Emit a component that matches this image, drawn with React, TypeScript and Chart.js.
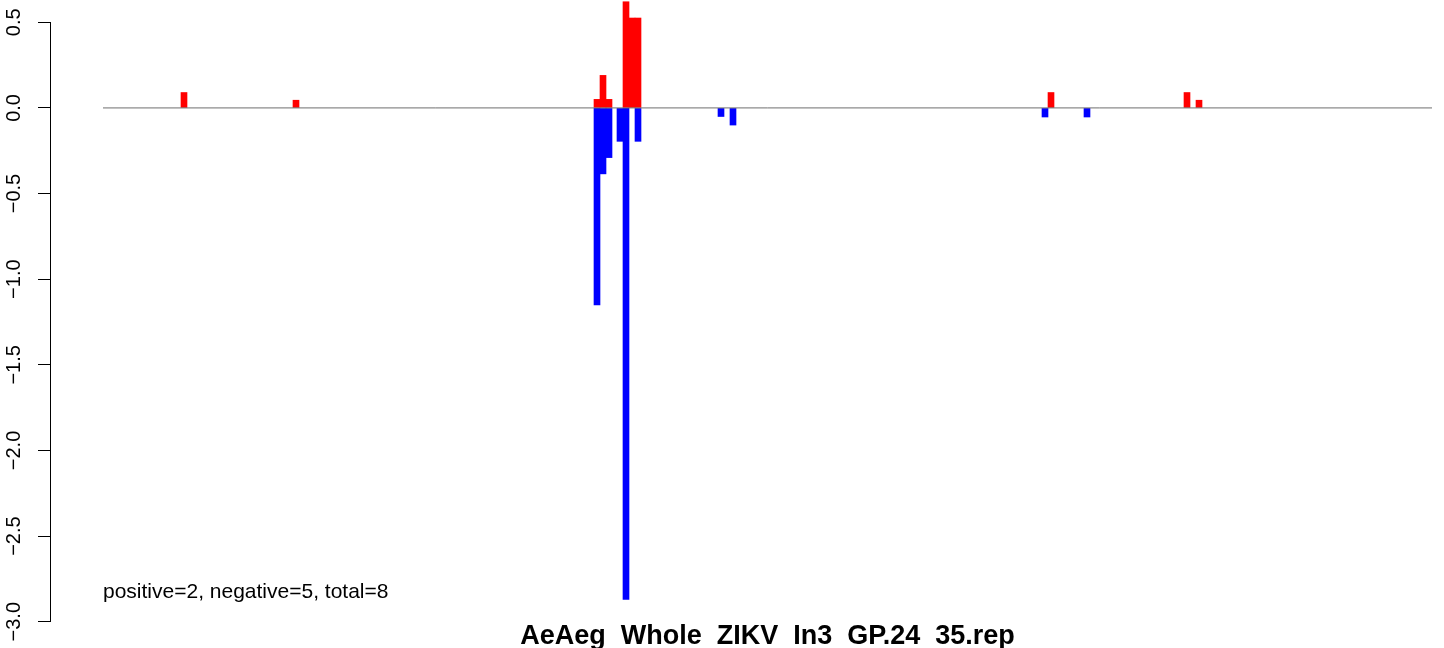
import React, { useEffect, useRef } from "react";
import { Chart, registerables } from "chart.js";

Chart.register(...registerables);

// ---- data ----
const POS_POSITIONS = [81, 193, 494, 500, 506, 523, 529, 535, 948, 1084, 1096];
const POS_VALUES = [0.09, 0.045, 0.05, 0.19, 0.05, 0.62, 0.525, 0.525, 0.09, 0.09, 0.045];
const NEG_POSITIONS = [494, 500, 506, 517, 523, 535, 618, 630, 942, 984];
const NEG_VALUES = [-1.15, -0.385, -0.29, -0.195, -2.87, -0.195, -0.05, -0.1, -0.053, -0.053];
const SEQ_RANGE = [0, 1329];
const X_LIMITS = [-53, 1341];
const Y_TICKS = [-3.0, -2.5, -2.0, -1.5, -1.0, -0.5, 0.0, 0.5];
const TITLE = "AeAeg  Whole  ZIKV  In3  GP.24  35.rep";
const ANNOTATION = "positive=2, negative=5, total=8";

const FONT = '"Liberation Sans", Arial, Helvetica, sans-serif';

export default function App() {
  const ref = useRef<HTMLCanvasElement | null>(null);

  useEffect(() => {
    if (!ref.current) return;
    const textPlugin = {
      id: "rtext",
      afterDraw(chart: any) {
        const ctx = chart.ctx;
        const xs = chart.scales.x;
        ctx.save();
        ctx.fillStyle = "#000";
        ctx.textBaseline = "alphabetic";
        ctx.font = `21px ${FONT}`;
        ctx.textAlign = "left";
        ctx.fillText(ANNOTATION, xs.getPixelForValue(SEQ_RANGE[0]), 598);
        ctx.font = `bold 27px ${FONT}`;
        ctx.textAlign = "center";
        ctx.fillText(TITLE, xs.getPixelForValue((SEQ_RANGE[0] + SEQ_RANGE[1]) / 2), 644);
        ctx.restore();
      },
    };

    const chart = new Chart(ref.current, {
      type: "bar",
      data: {
        datasets: [
          {
            type: "line",
            data: SEQ_RANGE.map((x) => ({ x, y: 0 })),
            borderColor: "#6e6e6e",
            borderWidth: 1,
            pointRadius: 0,
            order: -1,
          } as any,
          {
            data: POS_POSITIONS.map((x, i) => ({ x, y: POS_VALUES[i] })),
            backgroundColor: "#FF0000",
            borderWidth: 0,
            barThickness: 6,
            grouped: false,
            clip: false,
          },
          {
            data: NEG_POSITIONS.map((x, i) => ({ x, y: NEG_VALUES[i] })),
            backgroundColor: "#0000FF",
            borderWidth: 0,
            barThickness: 6,
            grouped: false,
            clip: false,
          },
        ],
      },
      options: {
        responsive: false,
        animation: false,
        layout: { padding: { top: 22.3, bottom: 26.3, left: 0, right: 0 } },
        plugins: {
          legend: { display: false },
          tooltip: { enabled: false },
          title: { display: false },
        },
        scales: {
          x: {
            type: "linear",
            display: false,
            offset: false,
            min: X_LIMITS[0],
            max: X_LIMITS[1],
          },
          y: {
            type: "linear",
            min: -3.0,
            max: 0.5,
            afterBuildTicks: (scale: any) => {
              scale.ticks = Y_TICKS.map((v) => ({ value: v }));
            },
            afterFit: (scale: any) => {
              scale.width = 50;
              scale.paddingTop = 0;
              scale.paddingBottom = 0;
            },
            border: { display: true, color: "#000", width: 1 },
            grid: {
              drawOnChartArea: false,
              drawTicks: true,
              tickLength: 12,
              color: "#000",
              lineWidth: 1,
            },
            ticks: {
              minRotation: 90,
              maxRotation: 90,
              crossAlign: "center",
              padding: 4,
              color: "#000",
              font: { family: FONT, size: 20 },
              callback: (v: any) => Number(v).toFixed(1).replace("-", "\u2212"),
            },
          },
        },
      },
      plugins: [textPlugin],
    });
    return () => chart.destroy();
  }, []);

  return (
    <div style={{ position: "fixed", left: 0, top: 0, width: 1444, height: 648, background: "#fff" }}>
      <canvas ref={ref} width={1444} height={648} style={{ display: "block" }} />
    </div>
  );
}
